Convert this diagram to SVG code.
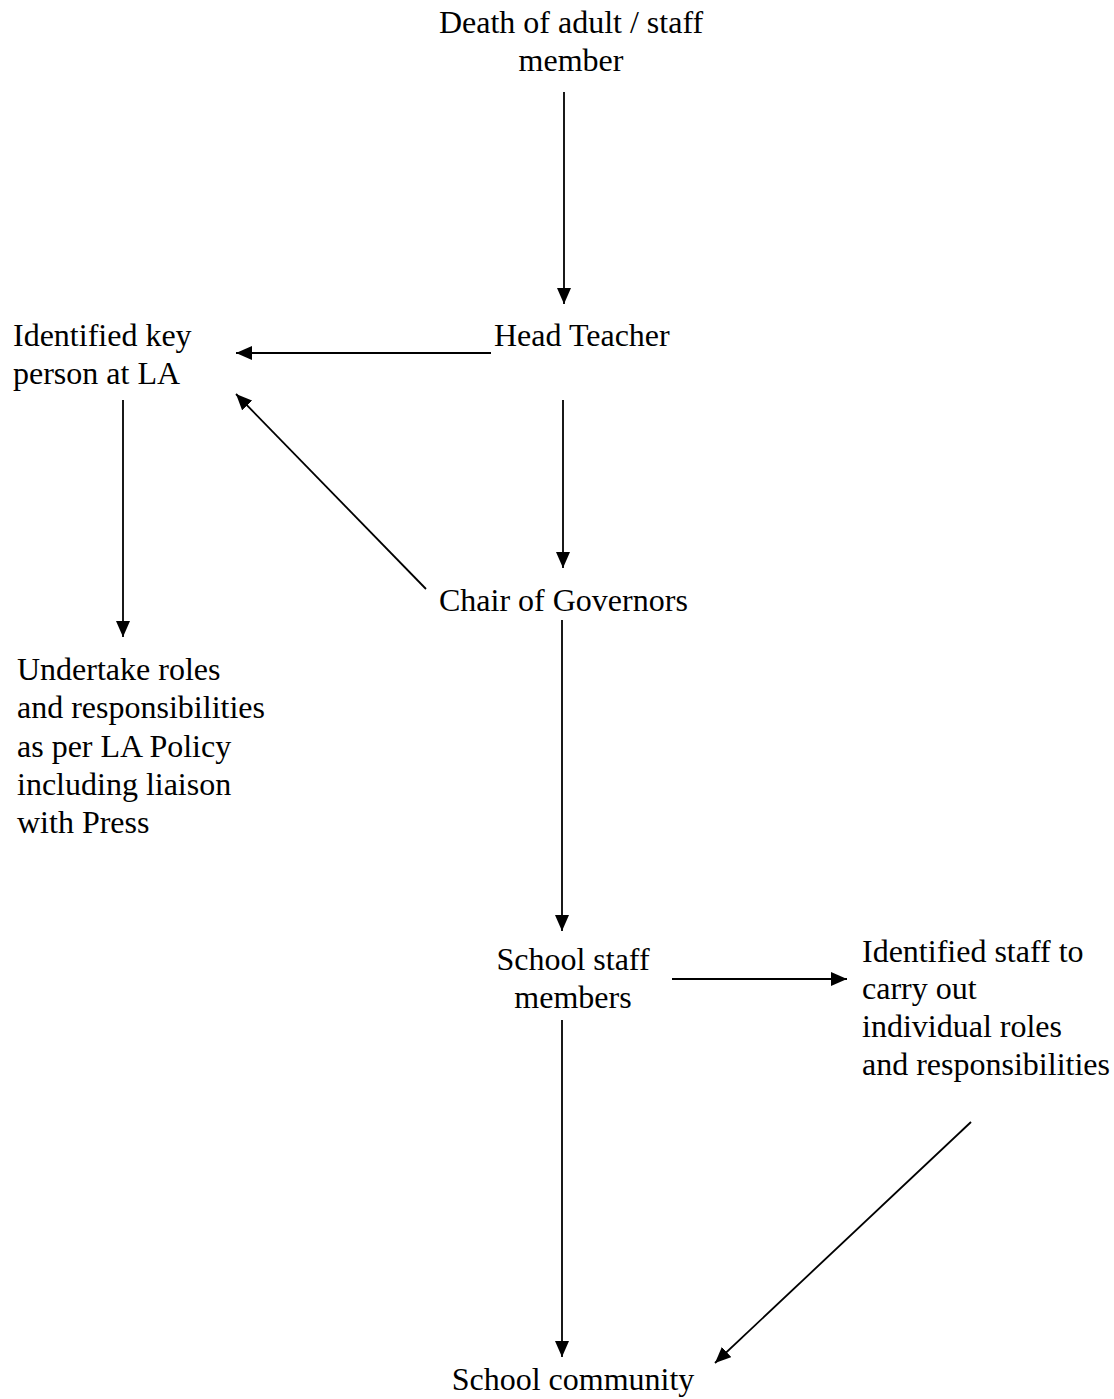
<svg xmlns="http://www.w3.org/2000/svg" width="1114" height="1399" viewBox="0 0 1114 1399">
<defs>
<marker id="ah" viewBox="0 0 16 14" refX="16" refY="7" markerWidth="16" markerHeight="14" markerUnits="userSpaceOnUse" orient="auto">
<path d="M0,0 L16,7 L0,14 z" fill="#000"/>
</marker>
<style>
text{font-family:"Liberation Serif","Times New Roman",serif;font-size:32px;fill:#000}
.c{text-anchor:middle}
.e{stroke:#000;stroke-width:1.8;fill:none;marker-end:url(#ah)}
</style>
</defs>
<rect width="1114" height="1399" fill="#fff"/>
<g id="death"><text class="c" x="571" y="33">Death of adult / staff</text><text class="c" x="571" y="71">member</text></g>
<g id="head"><text x="494" y="346">Head Teacher</text></g>
<g id="keyperson"><text x="13" y="346">Identified key</text><text x="13" y="384">person at LA</text></g>
<g id="chair"><text x="439" y="611">Chair of Governors</text></g>
<g id="undertake"><text x="17" y="680">Undertake roles</text><text x="17" y="718">and responsibilities</text><text x="17" y="757">as per LA Policy</text><text x="17" y="795">including liaison</text><text x="17" y="833">with Press</text></g>
<g id="staff"><text class="c" x="573" y="970">School staff</text><text class="c" x="573" y="1008">members</text></g>
<g id="identstaff"><text x="862" y="962">Identified staff to</text><text x="862" y="999">carry out</text><text x="862" y="1037">individual roles</text><text x="862" y="1075">and responsibilities</text></g>
<g id="community"><text class="c" x="573" y="1390">School community</text></g>
<g id="connectors">
<line class="e" x1="564" y1="92" x2="564" y2="304"/>
<line class="e" x1="491" y1="353" x2="236" y2="353"/>
<line class="e" x1="123" y1="400" x2="123" y2="637"/>
<line class="e" x1="426" y1="589" x2="236" y2="394"/>
<line class="e" x1="563" y1="400" x2="563" y2="568"/>
<line class="e" x1="562" y1="620" x2="562" y2="931"/>
<line class="e" x1="672" y1="979" x2="847" y2="979"/>
<line class="e" x1="562" y1="1020" x2="562" y2="1357"/>
<line class="e" x1="971" y1="1122" x2="715" y2="1363"/>
</g>
</svg>
